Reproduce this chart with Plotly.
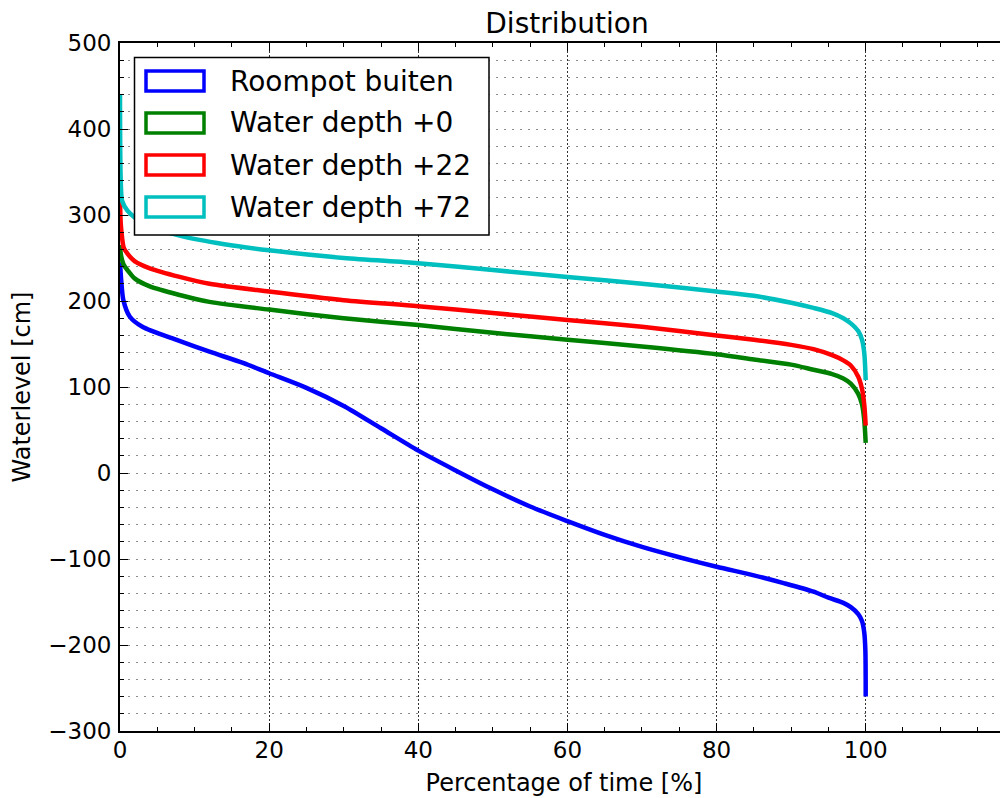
import plotly.graph_objects as go

# exceedance curves (percentage of time vs waterlevel)
roompot_x = [0, 0.2, 0.45, 1.3, 3, 7.5, 12, 16.5, 20, 25, 30, 35, 40, 45, 50, 55, 60,
             65, 70, 75, 80, 85, 89, 93, 95, 97, 98, 99, 99.5, 99.8, 99.95, 100]
roompot_y = [245, 220, 201, 182, 170, 155, 141, 128, 116, 99, 78, 52, 26, 3, -19, -39, -56,
             -72, -86, -98, -109, -119, -128, -138, -145, -151, -156, -164, -172, -185, -205, -260]

depth_x = [0, 0.1, 0.3, 0.5, 1, 2, 4, 8, 12, 20, 30, 40, 50, 60, 70, 80, 85, 90, 93,
           95.5, 97, 98, 99, 99.5, 99.8, 100]
depth0_y = [265, 255, 247, 242, 236, 226, 217, 207, 199, 190, 180, 172, 163, 155, 147, 138,
            132, 126, 120, 115, 110, 104, 92, 80, 62, 35]
depth22_y = [318, 290, 272, 262, 255, 246, 238, 228, 220, 211, 201, 194, 186, 178, 170, 160,
             155, 149, 144, 137, 131, 125, 112, 98, 80, 55]

depth72_x = [0, 0.1, 0.3, 1, 2, 4, 8, 14, 20, 30, 40, 50, 60, 70, 80, 85, 90, 93, 95.5,
             97, 98, 99, 99.5, 99.8, 100]
depth72_y = [440, 340, 316, 305, 297, 287, 276, 266, 259, 250, 244, 236, 228, 220, 211, 206,
             198, 192, 186, 180, 174, 165, 155, 140, 108]

names = ["Roompot buiten", "Water depth +0", "Water depth +22", "Water depth +72"]
colors = ["#0000ff", "#008000", "#ff0000", "#00bfbf"]

FONT = "DejaVu Sans"

# the page body adds an 8px margin, so the figure is drawn 8px smaller/shifted
OFF = 8
W, H = 1008 - OFF, 798 - OFF
# plot area in page pixels
L, R, T, B = 120, 1008, 43, 731


def px_x(px):
    return (px - L) / (R - L)


def px_y(py):
    return (B - py) / (B - T)


fig = go.Figure()
series = [(roompot_x, roompot_y), (depth_x, depth0_y), (depth_x, depth22_y), (depth72_x, depth72_y)]
for (xs, ys), name, col in zip(series, names, colors):
    fig.add_trace(go.Scatter(x=xs, y=ys, mode="lines", name=name, showlegend=False,
                             line=dict(color=col, width=4.5, shape="spline", smoothing=0.8)))

# legend drawn by hand: hollow patches like matplotlib
shapes = [dict(type="rect", xref="paper", yref="paper",
               x0=px_x(134.5), x1=px_x(489), y0=px_y(235), y1=px_y(57.5),
               line=dict(color="black", width=1.5), fillcolor="white", layer="above")]
annots = []
for i, (name, col) in enumerate(zip(names, colors)):
    cy = 81 + i * 42
    shapes.append(dict(type="rect", xref="paper", yref="paper",
                       x0=px_x(146), x1=px_x(204), y0=px_y(cy + 10), y1=px_y(cy - 10),
                       line=dict(color=col, width=3.5), fillcolor="white", layer="above"))
    annots.append(dict(text=name, xref="paper", yref="paper", x=px_x(228), y=px_y(cy),
                       xanchor="left", yanchor="middle", showarrow=False,
                       font=dict(family=FONT, size=28, color="black")))

fig.update_layout(
    width=W, height=H,
    margin=dict(l=L - OFF, r=1008 - R, t=T - OFF, b=798 - B),
    plot_bgcolor="white", paper_bgcolor="white",
    font=dict(family=FONT, color="black"),
    title=dict(text="Distribution", x=px_x(567), xref="paper", xanchor="center",
               y=1 - (23 - OFF) / H, yref="container", yanchor="middle",
               font=dict(family=FONT, size=28, color="black")),
    shapes=shapes, annotations=annots,
    showlegend=False,
)

fig.update_xaxes(
    range=[0, (R - L) / 7.457], dtick=20, tick0=0, automargin=False,
    ticks="inside", ticklen=8, tickwidth=1.2, tickcolor="black",
    showline=True, linecolor="black", linewidth=1.8, mirror="ticks",
    showgrid=True, gridcolor="#333333", gridwidth=1, griddash="2px,2px",
    zeroline=False,
    tickfont=dict(family=FONT, size=23, color="black"), ticklabelstandoff=-3,
    minor=dict(dtick=5, ticks="inside", ticklen=4, tickcolor="black", showgrid=False),
    title=dict(text="Percentage of time [%]", standoff=13,
               font=dict(family=FONT, size=24, color="black")),
)
fig.update_yaxes(
    range=[-300, 500], dtick=100, tick0=0, automargin=False,
    ticks="inside", ticklen=8, tickwidth=1.2, tickcolor="black",
    showline=True, linecolor="black", linewidth=1.8,
    showgrid=True, gridcolor="#8c8c8c", gridwidth=1.3, griddash="1.5px,6.5px",
    zeroline=False,
    tickfont=dict(family=FONT, size=23, color="black"), ticklabelstandoff=2,
    minor=dict(dtick=20, ticks="inside", ticklen=4, tickcolor="black",
               showgrid=True, gridcolor="#8c8c8c", gridwidth=1.3, griddash="1.5px,6.5px"),
    title=dict(text="Waterlevel [cm]", standoff=13,
               font=dict(family=FONT, size=24, color="black")),
)

fig.write_html("out.html")
